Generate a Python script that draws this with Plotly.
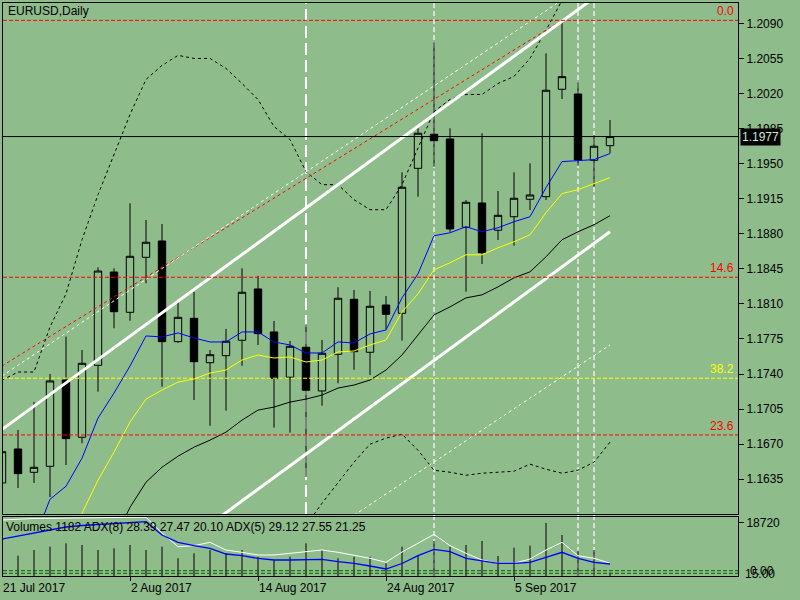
import plotly.graph_objects as go

BG = "#8FBC8B"
FONT = "Liberation Sans"

# ── data (EURUSD daily, 21 Jul .. 13 Sep 2017) ──
bars = list(range(39))
date_bars = [0, 8, 16, 24, 32]
date_labels = ["21 Jul 2017", "2 Aug 2017", "14 Aug 2017", "24 Aug 2017", "5 Sep 2017"]

opens = [1.16313, 1.16652, 1.16419, 1.16479, 1.17341, 1.16769, 1.17487, 1.18418, 1.18016, 1.18565,
         1.18728, 1.17723, 1.17956, 1.17513, 1.17583, 1.17737, 1.18249, 1.17820, 1.17368, 1.17667,
         1.17231, 1.17597, 1.18146, 1.17617, 1.18089, 1.18006, 1.19453, 1.19793, 1.19746, 1.18865,
         1.19107, 1.18835, 1.18970, 1.19144, 1.19170, 1.20242, 1.20195, 1.19533, 1.19679]
highs = [1.16692, 1.16842, 1.17121, 1.17401, 1.17773, 1.17640, 1.18465, 1.18455, 1.19104, 1.18937,
         1.18897, 1.18139, 1.18222, 1.17640, 1.17850, 1.18455, 1.18379, 1.17929, 1.17730, 1.17897,
         1.17740, 1.18266, 1.18239, 1.18229, 1.18179, 1.19413, 1.19853, 1.20707, 1.19853, 1.19137,
         1.19803, 1.19227, 1.19413, 1.19503, 1.20601, 1.20933, 1.20308, 1.19786, 1.19935]
lows = [1.16273, 1.16263, 1.16313, 1.16173, 1.16492, 1.16709, 1.17224, 1.17857, 1.17932, 1.18306,
        1.17274, 1.17713, 1.17141, 1.16884, 1.17034, 1.17483, 1.17690, 1.16865, 1.16815, 1.16373,
        1.17084, 1.17308, 1.17443, 1.17391, 1.17847, 1.17733, 1.19170, 1.19469, 1.18818, 1.18222,
        1.18498, 1.18738, 1.18681, 1.19037, 1.19137, 1.20145, 1.19479, 1.19270, 1.19603]
closes = [1.16625, 1.16406, 1.16469, 1.17331, 1.16755, 1.17507, 1.18428, 1.18022, 1.18575, 1.18715,
          1.17723, 1.17966, 1.17523, 1.17593, 1.17727, 1.18216, 1.17803, 1.17358, 1.17677, 1.17238,
          1.17607, 1.18156, 1.17623, 1.18076, 1.17996, 1.19264, 1.19803, 1.19729, 1.18848, 1.19114,
          1.18611, 1.18984, 1.19154, 1.19187, 1.20232, 1.20368, 1.19536, 1.19673, 1.19770]

ma_fast = [None, None, 1.1574, 1.1615, 1.1628, 1.1656, 1.1696, 1.1721, 1.1748, 1.1778,
           1.1777, 1.1781, 1.1776, 1.1772, 1.1772, 1.1782, 1.1782, 1.1772, 1.1769, 1.1761,
           1.1761, 1.1772, 1.1771, 1.1780, 1.1784, 1.1816, 1.1840, 1.1878, 1.1881, 1.1887,
           1.1882, 1.1886, 1.1892, 1.1897, 1.1926, 1.1952, 1.1953, 1.1954, 1.1960]
ma_slow = [None, None, None, None, 1.1554, 1.1601, 1.1634, 1.1662, 1.1692, 1.1715,
           1.1724, 1.1732, 1.1735, 1.1741, 1.1744, 1.1754, 1.1759, 1.1756, 1.1757, 1.1752,
           1.1754, 1.1762, 1.1763, 1.1769, 1.1774, 1.1802, 1.1820, 1.1844, 1.1851, 1.1859,
           1.1859, 1.1866, 1.1872, 1.1879, 1.1901, 1.1920, 1.1924, 1.1930, 1.1936]
bb_mid = [None, None, None, None, None, None, None, 1.1574, 1.1607, 1.1632,
          1.1647, 1.1658, 1.1667, 1.1674, 1.1682, 1.1694, 1.1704, 1.1707, 1.1712, 1.1715,
          1.1719, 1.1726, 1.1729, 1.1734, 1.1744, 1.1759, 1.1779, 1.1799, 1.1807, 1.1816,
          1.1819, 1.1827, 1.1836, 1.1842, 1.1857, 1.1874, 1.1882, 1.1889, 1.1898]
bb_upper = [1.1734, 1.1742, 1.1742, 1.1787, 1.1820, 1.1874, 1.1919, 1.1959, 1.1999, 1.2034,
            1.2048, 1.2058, 1.2055, 1.2055, 1.2045, 1.2030, 1.2014, 1.1987, 1.1974, 1.1942,
            1.1929, 1.1929, 1.1914, 1.1904, 1.1904, 1.1929, 1.1966, 1.2002, 1.2014, 1.2019,
            1.2019, 1.2030, 1.2037, 1.2055, 1.2083, 1.2113, 1.2135, 1.2150, 1.2160]
bb_lower = [None] * 17 + [1.1540, 1.1564, 1.1589,
            1.1611, 1.1631, 1.1652, 1.1670, 1.1676, 1.1680, 1.1664, 1.1644, 1.1642, 1.1639,
            1.1641, 1.1642, 1.1643, 1.1650, 1.1645, 1.1641, 1.1644, 1.1652, 1.1672]

volumes = [9880, 7170, 9180, 10340, 11540, 10940, 9180, 9780, 10940, 9180,
           10340, 6250, 8010, 9180, 8010, 9180, 6810, 5650, 6810, 11540,
           9180, 6250, 6810, 6810, 4480, 10340, 7170, 12360, 10340, 10940,
           12360, 7060, 9990, 10700, 18720, 14470, 8930, 9180, 1182]
adx_8 = [56, 57, 57.5, 57.7, 58, 58.3, 58.5, 58.7, 58.7, 58.7,
         43, 29.3, 30.3, 33.7, 26, 23.7, 21, 21, 22.7, 24.3,
         26, 23.7, 21, 17.7, 13.7, 24, 32.7, 41.7, 30.3, 22.7,
         16, 12.7, 12.7, 17, 26, 33.7, 20.3, 17.7, 12.7]
adx_5 = [37, 40, 43, 46, 49, 50.5, 51.5, 52.5, 53.5, 54.3,
         41, 33.7, 30.3, 27.7, 22, 20.3, 17.7, 16, 16, 16,
         16.7, 14.3, 12.7, 10, 7, 12.5, 20.3, 26.7, 24.3, 17.7,
         15.3, 12.7, 12.7, 13.7, 18.7, 23.7, 17.7, 13.7, 12]
adx_levels = [5.3, 2.7]

fib_labels = ["0.0", "14.6", "23.6", "38.2"]
fib_prices = [1.2093, 1.18366, 1.16792, 1.17358]
fib_colors = ["#FF0000", "#FF0000", "#FF0000", "#FFFF00"]

last_price = 1.1977

# trend objects: (bar, price) anchor pairs
channel_up_x, channel_up_y = [-1, 38], [1.1673, 1.2127]
channel_dn_x, channel_dn_y = [13, 38], [1.1590, 1.1882]
thin_up_x, thin_up_y = [0, 36], [1.1738, 1.2124]
thin_dn_x, thin_dn_y = [22, 38], [1.1599, 1.1769]
trend_red_x, trend_red_y = [0, 35], [1.1748, 1.2093]

vline_long = [19]
vline_short = [27, 36, 37]

price_ticks = [1.1635 + 0.0035 * k for k in range(14)]

X_RANGE = [0.0625, 46]
X_PX = [3, 738]          # plot area in pixels (left, right)

fig = go.Figure()

fig.add_trace(go.Candlestick(
    x=bars, open=opens, high=highs, low=lows, close=closes,
    increasing=dict(line=dict(color="black", width=1), fillcolor=BG),
    decreasing=dict(line=dict(color="black", width=1), fillcolor="black"),
    whiskerwidth=0, hoverinfo="skip", xaxis="x", yaxis="y",
))


def add_line(x, y, color, width=1, dash="solid", xaxis="x", yaxis="y"):
    fig.add_trace(go.Scatter(
        x=x, y=y, mode="lines", hoverinfo="skip",
        line=dict(color=color, width=width, dash=dash),
        xaxis=xaxis, yaxis=yaxis,
    ))


def bar_to_paper(b):
    px = X_PX[0] + (b - X_RANGE[0]) * (X_PX[1] - X_PX[0]) / (X_RANGE[1] - X_RANGE[0])
    return px / 800


# indicators
add_line(bars, bb_upper, "black", 1, "3px,3px")
add_line(bars, bb_lower, "black", 1, "3px,3px")
add_line(bars, bb_mid, "black", 1)
add_line(bars, ma_slow, "#FFFF00", 1)
add_line(bars, ma_fast, "#0000FF", 1)

# trend lines / channels
add_line(trend_red_x, trend_red_y, "#FF0000", 1, "3px,3px")
add_line(thin_up_x, thin_up_y, "white", 1, "3px,3px")
add_line(thin_dn_x, thin_dn_y, "white", 1, "3px,3px")
add_line(channel_up_x, channel_up_y, "white", 3)
add_line(channel_dn_x, channel_dn_y, "white", 3)

# volume sticks
vx, vy = [], []
for b, v in zip(bars, volumes):
    vx += [b, b, None]
    vy += [0, v, None]
add_line(vx, vy, "black", 1, xaxis="x2", yaxis="y2")

# ADX lines
add_line(bars, adx_8, "white", 1, xaxis="x2", yaxis="y3")
add_line(bars, adx_5, "#0000FF", 1.3, xaxis="x2", yaxis="y3")

shapes = []
for p, c in zip(fib_prices, fib_colors):
    shapes.append(dict(type="line", xref="x domain", x0=0, x1=1, yref="y", y0=p, y1=p,
                       line=dict(color=c, width=1, dash="4px,2px")))
shapes.append(dict(type="line", xref="x domain", x0=0, x1=1, yref="y", y0=last_price, y1=last_price,
                   line=dict(color="black", width=1)))
for lv in adx_levels:
    shapes.append(dict(type="line", xref="x2 domain", x0=0, x1=1, yref="y3", y0=lv, y1=lv,
                       line=dict(color="#006400", width=1, dash="4px,2px")))
for b in vline_long:
    shapes.append(dict(type="line", layer="below", xref="x", x0=b, x1=b, yref="y domain", y0=0, y1=1,
                       line=dict(color="white", width=2, dash="12px,5px")))
for b in vline_short:
    shapes.append(dict(type="line", layer="below", xref="x", x0=b, x1=b, yref="paper",
                       y0=1 - 576 / 600, y1=1 - 3 / 600,
                       line=dict(color="white", width=1.2, dash="5px,3px")))

annotations = [
    dict(text="EURUSD,Daily", xref="paper", yref="paper", x=6 / 800, y=1 - 11 / 600,
         xanchor="left", yanchor="middle", showarrow=False),
    dict(text="Volumes 1182 ADX(8) 28.39 27.47 20.10 ADX(5) 29.12 27.55 21.25",
         xref="paper", yref="paper", x=4 / 800, y=1 - 527 / 600,
         xanchor="left", yanchor="middle", showarrow=False),
    dict(text="1.1977", xref="paper", yref="y", x=740 / 800, y=last_price,
         xanchor="left", yanchor="middle", showarrow=False, bgcolor="black", borderpad=1,
         font=dict(color="#d4e6d4")),
    dict(text="0.00", xref="paper", yref="paper", x=748 / 800, y=1 - 571 / 600,
         xanchor="left", yanchor="middle", showarrow=False),
    dict(text="15.00", xref="paper", yref="paper", x=743 / 800, y=1 - 574 / 600,
         xanchor="left", yanchor="middle", showarrow=False),
]
for lab, p, c in zip(fib_labels, fib_prices, fib_colors):
    annotations.append(dict(text=lab, xref="paper", yref="y", x=736 / 800, y=p,
                            xanchor="right", yanchor="bottom", showarrow=False,
                            font=dict(color=c)))
for b, lab in zip(date_bars, date_labels):
    annotations.append(dict(text=lab, xref="paper", yref="paper", x=bar_to_paper(b), y=1 - 588 / 600,
                            xanchor="left", yanchor="middle", showarrow=False, xshift=-1))

axis_common = dict(showgrid=False, zeroline=False, showline=True, linecolor="black",
                   linewidth=1, mirror=True, fixedrange=True)
X_DOM = [X_PX[0] / 800, X_PX[1] / 800]

fig.update_layout(
    width=800, height=600,
    margin=dict(l=0, r=0, t=0, b=0),
    paper_bgcolor=BG, plot_bgcolor=BG,
    showlegend=False, boxgap=0.34, hovermode=False,
    font=dict(family=FONT, size=12, color="black"),
    xaxis=dict(domain=X_DOM, range=X_RANGE, showticklabels=False, anchor="y",
               rangeslider=dict(visible=False), **axis_common),
    yaxis=dict(domain=[1 - 514 / 600, 1 - 3 / 600], range=[1.16003, 1.21103], anchor="x",
               side="right", tickvals=price_ticks, ticktext=[f"{t:.4f}" for t in price_ticks],
               ticks="outside", ticklen=5, tickcolor="black", **axis_common),
    xaxis2=dict(domain=X_DOM, matches="x", anchor="y2", showticklabels=False,
                tickvals=date_bars, ticks="outside", ticklen=4, tickcolor="black", **axis_common),
    yaxis2=dict(domain=[1 - 576 / 600, 1 - 516.7 / 600], range=[0, 20930], anchor="x2",
                side="right", tickvals=[18720], ticktext=["18720"],
                ticks="outside", ticklen=5, tickcolor="black", **axis_common),
    yaxis3=dict(overlaying="y2", range=[0, 59.3], visible=False, fixedrange=True),
    shapes=shapes,
    annotations=annotations,
)

fig.write_html("out.html", config={"displayModeBar": False, "staticPlot": True},
               post_script="document.body.style.margin='0';")
